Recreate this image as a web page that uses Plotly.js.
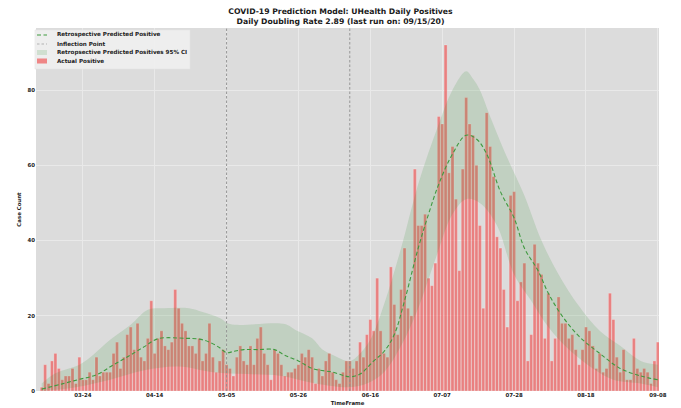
<!DOCTYPE html>
<html>
<head>
<meta charset="utf-8">
<script src="https://cdn.plot.ly/plotly-3.0.1.min.js"></script>
<style>html,body{margin:0;padding:0;background:#fff;}#chart{width:681px;height:408px;}</style>
</head>
<body>
<div id="chart"></div>
<script>
// ---- DATA ----
const firstDay = '2020-03-12';
const actualPositive = [
  1,7,2,8,10,6,3,4,4,6,2,9,3,3,5,3,9,4,5,5,
  5,10,13,6,9,15,17,11,18,9,8,14,24,10,14,16,12,11,13,27,
  22,18,16,12,12,10,14,8,10,18,9,5,8,11,7,
  6,4,9,12,8,7,12,7,14,17,10,7,3,11,10,7,4,5,5,6,
  7,10,9,11,9,2,6,4,8,10,5,3,2,5,8,
  8,6,8,13,9,15,19,16,30,16,10,9,33,23,15,27,38,22,20,59,
  44,44,47,30,28,34,73,71,92,58,65,51,32,59,78,71,68,60,44,22,
  74,65,57,41,38,27,17,52,53,24,29,34,8,15,39,34,31,14,26,8,
  14,25,18,18,14,15,11,7,11,17,16,12,6,10,5,6,26,19,9,5,
  11,3,3,14,6,5,6,5,2,8,13
];
const predDates = ['2020-03-12','2020-03-18','2020-03-23','2020-03-28','2020-04-02','2020-04-07','2020-04-11','2020-04-15','2020-04-23','2020-04-27','2020-04-30','2020-05-03','2020-05-05','2020-05-07','2020-05-10','2020-05-14','2020-05-19','2020-05-22','2020-05-26','2020-05-30','2020-06-05','2020-06-10','2020-06-13','2020-06-17','2020-06-20','2020-06-23','2020-06-26','2020-06-30','2020-07-03','2020-07-06','2020-07-10','2020-07-14','2020-07-17','2020-07-20','2020-07-24','2020-07-28','2020-07-31','2020-08-04','2020-08-07','2020-08-11','2020-08-16','2020-08-22','2020-08-28','2020-09-03','2020-09-08'];
const predValues = [0.5,1.9,3.1,4.3,7,9.6,11.8,13.9,14,13.8,13,11.5,10.2,10.5,11,11,11,9.5,8,6,5,3.8,4.5,8,10.5,15,24,38,47,55,63,68,67,63,53,46,38,32,26,20,14.5,10,6,4,3];
const ciUpperDates = ['2020-03-12','2020-03-16','2020-03-23','2020-03-27','2020-04-01','2020-04-07','2020-04-12','2020-04-17','2020-04-24','2020-04-28','2020-05-03','2020-05-06','2020-05-22','2020-05-25','2020-05-30','2020-06-02','2020-06-05','2020-06-10','2020-06-13','2020-06-16','2020-06-20','2020-06-25','2020-06-30','2020-07-06','2020-07-10','2020-07-14','2020-07-16','2020-07-18','2020-07-21','2020-07-26','2020-07-31','2020-08-05','2020-08-10','2020-08-16','2020-08-22','2020-08-28','2020-09-03','2020-09-08'];
const ciUpper = [2,4.7,7,9.6,13.6,17.6,21.6,22,22,21,19.4,17.8,17.8,16.3,14,11,9.6,8,10,13.6,23,38,55,71,80,85,83,80,73,62,52,40,31,22.5,16,12,8,7];
const ciLowerDates = ['2020-03-12','2020-03-22','2020-04-01','2020-04-11','2020-04-21','2020-05-01','2020-05-11','2020-05-21','2020-05-31','2020-06-10','2020-06-15','2020-06-20','2020-06-25','2020-06-30','2020-07-05','2020-07-10','2020-07-14','2020-07-18','2020-07-23','2020-07-28','2020-08-02','2020-08-07','2020-08-13','2020-08-20','2020-08-26','2020-09-03','2020-09-08'];
const ciLower = [0,1,3,5.5,6.5,5,4.5,4,2,1,2,5,12,22,35,47,51,50,44,31,24,17,11,6,3,2,1];
const inflectionDates = ['2020-05-05','2020-06-10'];
const legendLabels = ['Retrospective Predicted Positive','Inflection Point','Retropsective Predicted Positives 95% CI','Actual Positive'];
const yMax = 96.5;
const xRange = ['2020-03-10 08:00','2020-09-08 08:00'];

// ---- STYLE ----
const C_PRED = '#3f9a3f', C_INFL = '#8f8f8f', C_CI = 'rgba(60,150,60,0.17)', C_BAR = 'rgba(240,80,80,0.66)';
const DASH_PRED = '4px,2.5px', DASH_INFL = '2.5px,2px';
const DAY = 86400000;
const axFont = {family: 'DejaVu Sans', size: 5.4, color: '#222', weight: 'bold'};

// ---- BUILD ----
const barDates = actualPositive.map((_, i) => {
  const d = new Date(firstDay + 'T00:00:00Z');
  d.setUTCDate(d.getUTCDate() + i);
  return d.toISOString().slice(0, 10);
});
const inflX = [], inflY = [];
inflectionDates.forEach(d => { inflX.push(d, d, null); inflY.push(0, yMax, null); });

const traces = [
  {x: ciLowerDates, y: ciLower, type: 'scatter', mode: 'lines', line: {width: 0, shape: 'spline'},
   showlegend: false, hoverinfo: 'skip'},
  {x: ciUpperDates, y: ciUpper, type: 'scatter', mode: 'lines', line: {width: 0, shape: 'spline'},
   fill: 'tonexty', fillcolor: C_CI, showlegend: false, name: legendLabels[2]},
  {x: barDates, y: actualPositive, type: 'bar', width: DAY * 0.88,
   marker: {color: C_BAR, line: {color: 'rgba(255,255,255,0.6)', width: 0.4}},
   showlegend: false, name: legendLabels[3]},
  {x: predDates, y: predValues, type: 'scatter', mode: 'lines',
   line: {color: C_PRED, width: 1.1, dash: DASH_PRED, shape: 'spline'},
   showlegend: false, name: legendLabels[0]},
  {x: inflX, y: inflY, type: 'scatter', mode: 'lines',
   line: {color: C_INFL, width: 0.9, dash: DASH_INFL},
   showlegend: false, name: legendLabels[1]}
];

// compact legend (paper coordinates of the plot area)
const plotW = 681 - 36 - 22, plotH = 408 - 28 - 17;
const px2x = p => (p - 36) / plotW;
const py2y = p => 1 - (p - 28) / plotH;
const rowsY = [35, 44, 52.5, 61];
const shapes = [
  {type: 'rect', xref: 'paper', yref: 'paper', x0: px2x(35), x1: px2x(190), y0: py2y(69), y1: py2y(30),
   fillcolor: 'rgba(240,240,240,0.9)', line: {color: '#e4e4e4', width: 0.6}, layer: 'above'},
  {type: 'line', xref: 'paper', yref: 'paper', x0: px2x(37), x1: px2x(47), y0: py2y(rowsY[0]), y1: py2y(rowsY[0]),
   line: {color: C_PRED, width: 1.1, dash: DASH_PRED}, layer: 'above'},
  {type: 'line', xref: 'paper', yref: 'paper', x0: px2x(37), x1: px2x(47), y0: py2y(rowsY[1]), y1: py2y(rowsY[1]),
   line: {color: '#aaaaaa', width: 0.9, dash: DASH_INFL}, layer: 'above'},
  {type: 'rect', xref: 'paper', yref: 'paper', x0: px2x(37), x1: px2x(47), y0: py2y(rowsY[2] + 2.5), y1: py2y(rowsY[2] - 2.5),
   fillcolor: 'rgba(60,150,60,0.17)', line: {width: 0}, layer: 'above'},
  {type: 'rect', xref: 'paper', yref: 'paper', x0: px2x(37), x1: px2x(47), y0: py2y(rowsY[3] + 2.5), y1: py2y(rowsY[3] - 2.5),
   fillcolor: C_BAR, line: {width: 0}, layer: 'above'}
];
const annotations = legendLabels.map((t, i) => ({
  text: t, xref: 'paper', yref: 'paper', x: px2x(55), y: py2y(rowsY[i]), xanchor: 'left', yanchor: 'middle',
  showarrow: false, font: {family: 'DejaVu Sans', size: 5.6, color: '#222', weight: 'bold'}
}));

const layout = {
  width: 681, height: 408,
  margin: {l: 36, r: 22, t: 28, b: 17},
  paper_bgcolor: '#ffffff',
  plot_bgcolor: '#dcdcdc',
  bargap: 0,
  showlegend: false,
  title: {text: 'COVID-19 Prediction Model: UHealth Daily Positives<br>Daily Doubling Rate 2.89 (last run on: 09/15/20)',
          font: {family: 'DejaVu Sans', size: 7.7, color: '#1a1a1a', weight: 'bold'},
          x: 0.5, xanchor: 'center', y: 1 - 14 / 408, yanchor: 'middle', yref: 'container'},
  xaxis: {type: 'date', range: xRange, tickformat: '%m-%d', tick0: '2020-03-24', dtick: 21 * DAY,
          showgrid: true, gridcolor: '#e9e9e9', gridwidth: 1, zeroline: false, ticks: '',
          tickfont: axFont, showline: false,
          title: {text: 'TimeFrame', font: axFont, standoff: 3}},
  yaxis: {range: [0, yMax], tickvals: [0, 20, 40, 60, 80], showgrid: true, gridcolor: '#e9e9e9', gridwidth: 1,
          zeroline: false, ticks: '', tickfont: axFont,
          title: {text: 'Case Count', font: axFont, standoff: 5}},
  shapes: shapes,
  annotations: annotations
};

Plotly.newPlot('chart', traces, layout, {displayModeBar: false, staticPlot: true});
</script>
</body>
</html>
